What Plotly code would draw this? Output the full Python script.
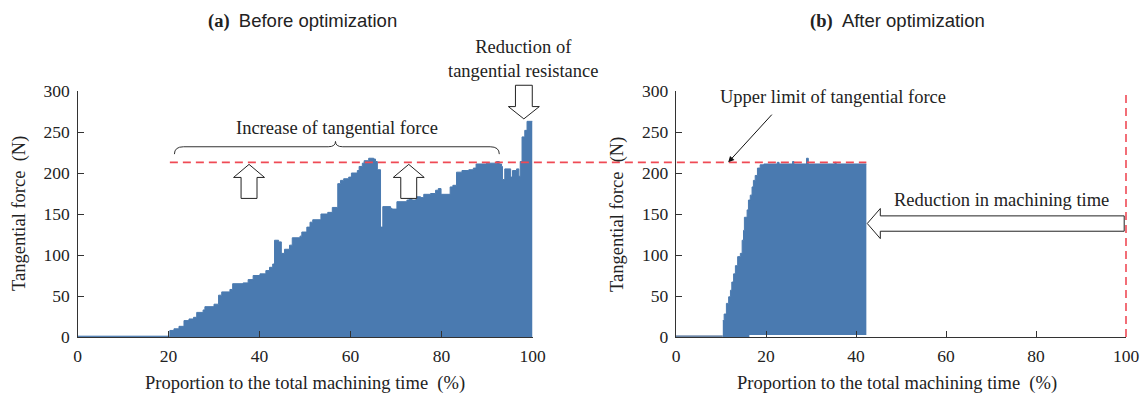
import plotly.graph_objects as go

# ---------------- data ----------------
# (a) before optimization: step starts (x %) and force values (N)
L_X = [0, 20.3, 21.2, 22.3, 23.4, 24.5, 25.5, 26.2, 27.6, 28.0, 30.0, 31.0, 31.7, 33.5, 34.1,
       36.4, 37.5, 38.6, 40.1, 41.4, 42.2, 42.9, 43.3, 44.2, 44.8, 45.5, 46.6, 47.2, 48.9,
       49.3, 50.4, 51.1, 51.7, 53.5, 55.0, 56.0, 57.2, 57.8, 58.5, 59.6, 60.2, 61.5, 61.9,
       62.6, 63.0, 64.0, 65.1, 65.5, 65.9, 66.6, 67.1, 68.8, 69.1, 70.2, 72.4, 72.9, 73.5,
       74.4, 75.4, 76.1, 77.6, 78.7, 79.3, 79.9, 81.9, 82.5, 83.3, 84.5, 86.0, 87.0, 87.6,
       89.9, 92.1, 92.7, 93.2, 93.4, 93.9, 95.2, 95.6, 96.5, 97.0, 97.3, 97.7, 98.3, 98.8, 100]
L_Y = [1, 8, 10, 13, 20, 22, 24, 30, 33, 37, 40, 51, 55, 58, 65,
       66, 70, 75, 77, 81, 85, 89, 118, 116, 102, 107, 112, 121, 123,
       128, 134, 140, 143, 150, 152, 158, 187, 191, 193, 195, 200, 203, 208,
       212, 215, 218, 217, 214, 204, 134, 159, 157, 156, 165, 167, 169, 167,
       171, 170, 174, 175, 179, 181, 174, 183, 185, 201, 203, 204, 206, 211,
       212, 214, 211, 208, 192, 205, 195, 203, 205, 196, 214, 244, 252, 263, 263]

# (b) after optimization: baseline, upper envelope, lower envelope
R_BASE_X = [0, 10.4]
R_BASE_Y = [1, 1]
R_X = [10.4, 10.7, 11.2, 11.7, 12.1, 12.4, 12.8, 13.2, 13.7, 14.3, 14.7, 15.0, 15.2, 15.8,
       16.1, 16.5, 16.9, 17.2, 17.6, 18.1, 18.7, 19.5, 22.5, 22.9, 25.9, 26.2, 29.0, 29.4,
       35.3, 35.6, 42.3]
R_Y = [20, 28, 41, 49, 57, 67, 77, 87, 98, 102, 118, 130, 146, 155,
       167, 173, 183, 191, 197, 206, 210, 211, 213, 211, 214, 211, 218, 211,
       213, 211, 211]
R_LOW_X = [10.4, 16.3, 16.3, 42.3]
R_LOW_Y = [0, 0, 2.5, 2.5]

LIMIT = 213
X_TICKS = [0, 20, 40, 60, 80, 100]
Y_TICKS = [0, 50, 100, 150, 200, 250, 300]

TITLE_A = "(a)"
TITLE_A2 = "Before optimization"
TITLE_B = "(b)"
TITLE_B2 = "After optimization"
X_TITLE = "Proportion to the total machining time\u00a0\u00a0(%)"
Y_TITLE = "Tangential force\u00a0\u00a0(N)"

# ---------------- style ----------------
W, H = 1145, 398
BLUE = "#4a7ab0"
RED = "#ef4a55"
AX = "#333333"
TXT = "#222222"
SERIF = "Liberation Serif, Times New Roman, serif"
SANS = "Liberation Sans, Arial, sans-serif"
FS = 18.5
XD1 = [77.5 / W, 532.5 / W]
XD2 = [676.0 / W, 1126.0 / W]

fig = go.Figure()

fig.add_trace(go.Scatter(x=L_X, y=L_Y, mode="lines", line=dict(color=BLUE, width=1, shape="hv"),
                         fill="tozeroy", fillcolor=BLUE, xaxis="x", yaxis="y", showlegend=False,
                         hoverinfo="skip"))
fig.add_trace(go.Scatter(x=R_BASE_X, y=R_BASE_Y, mode="lines", line=dict(color="#3d5f8a", width=1.2),
                         xaxis="x2", yaxis="y2", showlegend=False, hoverinfo="skip"))
fig.add_trace(go.Scatter(x=R_LOW_X, y=R_LOW_Y, mode="lines", line=dict(color=BLUE, width=0),
                         xaxis="x2", yaxis="y2", showlegend=False, hoverinfo="skip"))
fig.add_trace(go.Scatter(x=R_X, y=R_Y, mode="lines", line=dict(color=BLUE, width=1, shape="hv"),
                         fill="tonexty", fillcolor=BLUE, xaxis="x2", yaxis="y2", showlegend=False,
                         hoverinfo="skip"))

axis_common = dict(showgrid=False, zeroline=False, showline=True, linecolor=AX, linewidth=1.3,
                   ticks="inside", ticklen=6, tickwidth=1.3, tickcolor=AX,
                   tickfont=dict(family=SERIF, size=17.5, color=TXT), automargin=False)

fig.update_layout(
    width=W, height=H, margin=dict(l=0, r=0, t=91, b=61),
    paper_bgcolor="white", plot_bgcolor="white",
    xaxis=dict(domain=XD1, range=[0, 100], tickvals=X_TICKS, anchor="y", ticklabelstandoff=3,
               **axis_common),
    yaxis=dict(domain=[0, 1], range=[0, 300], tickvals=Y_TICKS, anchor="x", ticklabelstandoff=3,
               **axis_common),
    xaxis2=dict(domain=XD2, range=[0, 100], tickvals=X_TICKS, anchor="y2", ticklabelstandoff=3,
                **axis_common),
    yaxis2=dict(domain=[0, 1], range=[0, 300], tickvals=Y_TICKS, anchor="x2", ticklabelstandoff=3,
                **axis_common),
)


def to_paper(v, dom):
    return dom[0] + v / 100.0 * (dom[1] - dom[0])


shapes = []
# upper limit line spanning both panels
shapes.append(dict(type="line", xref="paper", yref="y", x0=to_paper(20.3, XD1), x1=to_paper(42.3, XD2),
                   y0=LIMIT, y1=LIMIT, line=dict(color=RED, width=1.6, dash="8px,5px")))
# original machining end in (b)
shapes.append(dict(type="line", xref="x2 domain", yref="y2 domain", x0=1, x1=1, y0=0, y1=1,
                   line=dict(color=RED, width=1.6, dash="8px,5px")))


def up_arrow(cx, y0, yb, yt, hs, hh):
    return (f"M {cx-hs},{y0} L {cx-hs},{yb} L {cx-hh},{yb} L {cx},{yt} L {cx+hh},{yb} "
            f"L {cx+hs},{yb} L {cx+hs},{y0} Z")


for cx in (37.7, 72.8):
    shapes.append(dict(type="path", xref="x", yref="y", path=up_arrow(cx, 169, 194.6, 210.5, 1.75, 3.4),
                       fillcolor="white", line=dict(color=TXT, width=1)))

# down arrow (above plot), domain coordinates
cx, hs, hh = 0.981, 0.0185, 0.034
yt, yb, ytip = 307 / 300, 281 / 300, 266 / 300
shapes.append(dict(type="path", xref="x domain", yref="y domain",
                   path=(f"M {cx-hs},{yt} L {cx-hs},{yb} L {cx-hh},{yb} L {cx},{ytip} L {cx+hh},{yb} "
                         f"L {cx+hs},{yb} L {cx+hs},{yt} Z"),
                   fillcolor="white", line=dict(color=TXT, width=1)))

# curly brace
bl, bc, br, by, be, bp = 21.3, 56.7, 92.7, 232, 223, 238.5
brace = (f"M {bl},{be} Q {bl},{by} {bl+2},{by} L {bc-1.6},{by} Q {bc},{by} {bc},{bp} "
         f"Q {bc},{by} {bc+1.6},{by} L {br-2},{by} Q {br},{by} {br},{be}")
shapes.append(dict(type="path", xref="x", yref="y", path=brace, line=dict(color="#333333", width=1)))

# left block arrow in (b)
shapes.append(dict(type="path", xref="x2", yref="y2",
                   path=("M 99.6,147.7 L 45.4,147.7 L 45.4,156.7 L 42.5,138.4 L 45.4,120 "
                         "L 45.4,129 L 99.6,129 Z"),
                   fillcolor="white", line=dict(color=TXT, width=1)))

ann = []
for xc, t1, t2 in ((302 / W, TITLE_A, TITLE_A2), (897 / W, TITLE_B, TITLE_B2)):
    ann.append(dict(xref="paper", yref="paper", x=xc, y=1 + (91 - 21) / 246.0, showarrow=False,
                    text=f"<b>{t1}</b>\u00a0\u00a0<span style='font-family:{SANS}'>{t2}</span>",
                    font=dict(family=SERIF, size=FS, color=TXT), xanchor="center", yanchor="middle"))
for xc in (305 / W, 897 / W):
    ann.append(dict(xref="paper", yref="paper", x=xc, y=(337 - 383) / 246.0, showarrow=False,
                    text=X_TITLE, font=dict(family=SERIF, size=FS, color=TXT),
                    xanchor="center", yanchor="middle"))
for xc in (19 / W, 617 / W):
    ann.append(dict(xref="paper", yref="paper", x=xc, y=0.5, showarrow=False, textangle=-90,
                    text=Y_TITLE, font=dict(family=SERIF, size=FS, color=TXT),
                    xanchor="center", yanchor="middle"))

ann.append(dict(xref="x", yref="y", x=57, y=255, showarrow=False, text="Increase of tangential force",
                font=dict(family=SERIF, size=FS, color=TXT), xanchor="center"))
ann.append(dict(xref="x", yref="paper", x=98.1, y=339 / 300, showarrow=False,
                text="Reduction of<br>tangential resistance",
                font=dict(family=SERIF, size=FS, color=TXT), xanchor="center", yanchor="middle"))
ann.append(dict(xref="x2", yref="y2", x=34.9, y=293, showarrow=False,
                text="Upper limit of tangential force",
                font=dict(family=SERIF, size=FS, color=TXT), xanchor="center"))
ann.append(dict(xref="x2", yref="y2", x=72.4, y=167, showarrow=False,
                text="Reduction in machining time",
                font=dict(family=SERIF, size=FS, color=TXT), xanchor="center"))
ann.append(dict(xref="x2", yref="y2", x=11.6, y=213, axref="x2", ayref="y2", ax=21.6, ay=273,
                showarrow=True, arrowhead=2, arrowsize=1.2, arrowwidth=1, arrowcolor="#111111",
                text=""))

fig.update_layout(shapes=shapes, annotations=ann)
fig.write_html("out.html", config={"displayModeBar": False},
               post_script="document.body.style.margin='0';")
